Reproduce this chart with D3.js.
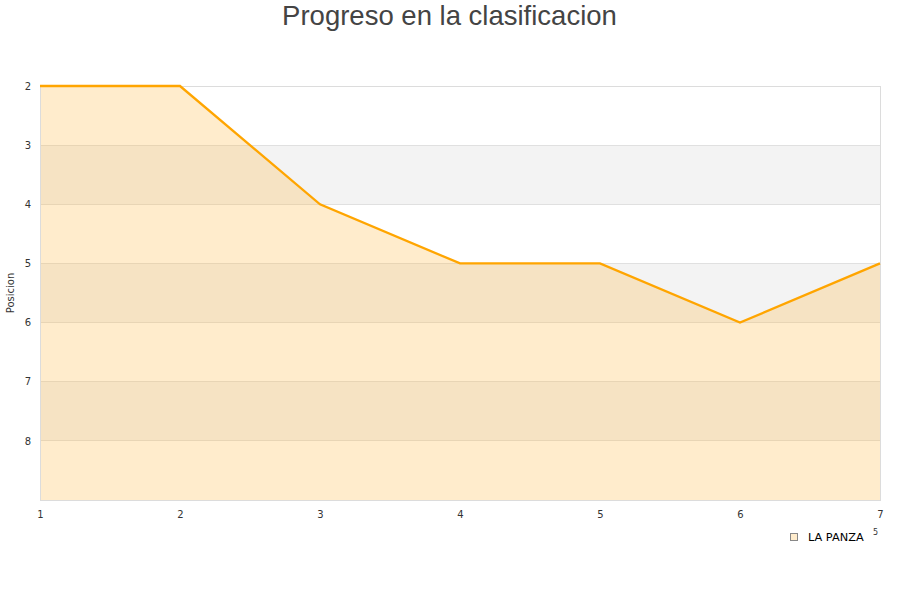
<!DOCTYPE html>
<html><head><meta charset="utf-8">
<script src="https://cdn.jsdelivr.net/npm/d3@7/dist/d3.min.js"></script>
<style>body{margin:0;background:#fff;} svg{display:block;font-family:"DejaVu Sans",sans-serif;}</style>
</head><body>
<svg id="c" width="900" height="600"></svg>
<script>
const jornadas = [1, 2, 3, 4, 5, 6, 7];
const posiciones = [2, 2, 4, 5, 5, 6, 5];
const yTicks = [2, 3, 4, 5, 6, 7, 8];
const seriesName = "LA PANZA";
const titleText = "Progreso en la clasificacion";
const yLabel = "Posicion";

const svg = d3.select("#c");
const L = 40, R = 880, T = 86, B = 500;
const x = d3.scaleLinear().domain([1, 7]).range([L, R]);
const y = d3.scaleLinear().domain([2, 9]).range([T, B]);

svg.append("text").attr("x", 449.5).attr("y", 25).attr("text-anchor", "middle")
  .attr("font-family", "Liberation Sans, Arial, sans-serif").attr("font-size", 27.5)
  .attr("fill", "#444").text(titleText);

// bands
const bandStarts = [2, 3, 4, 5, 6, 7, 8];
svg.append("g").selectAll("rect").data(bandStarts).join("rect")
  .attr("x", L).attr("width", R - L)
  .attr("y", d => y(d)).attr("height", d => y(d + 1) - y(d))
  .attr("fill", (d, i) => i % 2 === 1 ? "#f3f3f3" : "#ffffff");

// grid
svg.append("g").selectAll("line").data(yTicks.slice(1)).join("line")
  .attr("x1", L).attr("x2", R).attr("y1", d => y(d)).attr("y2", d => y(d))
  .attr("stroke", "#e0e0e0").attr("stroke-width", 1).attr("shape-rendering", "crispEdges");

// area
const area = d3.area().x((d, i) => x(jornadas[i])).y0(y(9)).y1(d => y(d));
svg.append("path").datum(posiciones).attr("d", area)
  .attr("fill", "rgb(255,179,51)").attr("fill-opacity", 0.25);

// border
svg.append("rect").attr("x", L).attr("y", T).attr("width", R - L).attr("height", B - T)
  .attr("fill", "none").attr("stroke", "#dcdcdc").attr("shape-rendering", "crispEdges");

// line
const line = d3.line().x((d, i) => x(jornadas[i])).y(d => y(d));
svg.append("path").datum(posiciones).attr("d", line)
  .attr("fill", "none").attr("stroke", "#ffa500").attr("stroke-width", 2.3);

// axes
const xAxis = svg.append("g").attr("transform", `translate(0,${B})`)
  .call(d3.axisBottom(x).tickValues(jornadas).tickFormat(d3.format("d")).tickSize(0).tickPadding(11));
xAxis.select(".domain").remove();
const yAxis = svg.append("g").attr("transform", `translate(${L},0)`)
  .call(d3.axisLeft(y).tickValues(yTicks).tickFormat(d3.format("d")).tickSize(0).tickPadding(9));
yAxis.select(".domain").remove();
svg.selectAll(".tick text").attr("font-size", 10).attr("fill", "#333").attr("font-family", "DejaVu Sans, sans-serif");

svg.append("text").attr("transform", "translate(14,293) rotate(-90)").attr("text-anchor", "middle")
  .attr("font-size", 10).attr("fill", "#333").text(yLabel);

// legend
svg.append("rect").attr("x", 790.5).attr("y", 533.5).attr("width", 7).attr("height", 7)
  .attr("fill", "#ffeccc").attr("stroke", "#888");
svg.append("text").attr("x", 808).attr("y", 540.5).attr("font-size", 11.3).attr("fill", "#000").text(seriesName);
svg.append("text").attr("x", 873).attr("y", 535).attr("font-size", 8).attr("fill", "#333").text("5");
</script>
</body></html>
